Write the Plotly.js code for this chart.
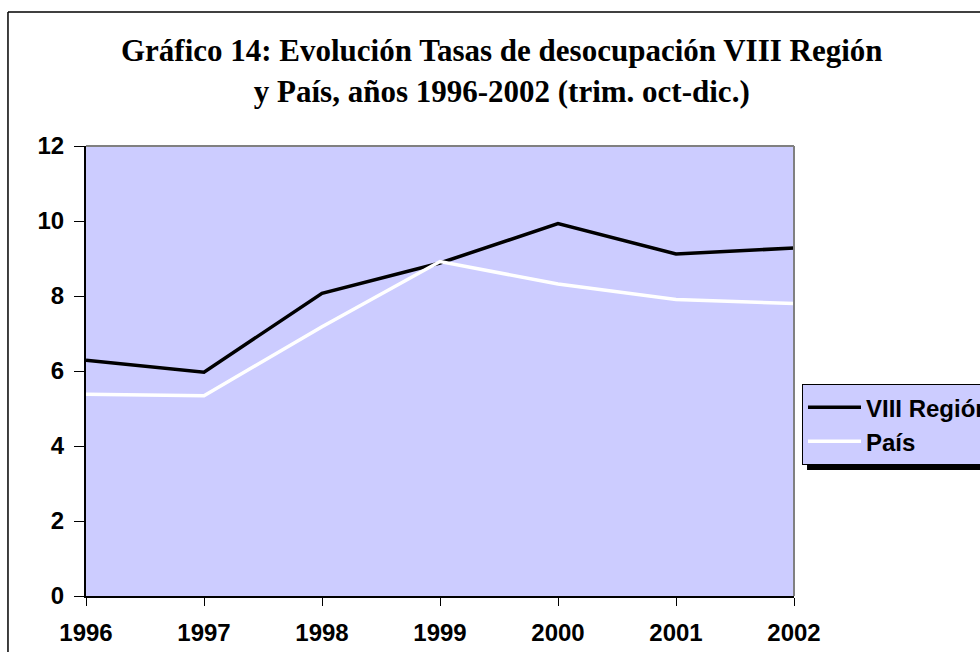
<!DOCTYPE html>
<html>
<head>
<meta charset="utf-8">
<script src="https://cdn.plot.ly/plotly-3.0.1.min.js"></script>
<style>
  html, body { margin: 0; padding: 0; background: #fff; }
  #chart { width: 980px; height: 652px; }
</style>
</head>
<body>
<div id="chart"></div>
<script>
var years = [1996, 1997, 1998, 1999, 2000, 2001, 2002];
var regionVIII = [6.29, 5.97, 8.07, 8.88, 9.93, 9.12, 9.28];
var pais = [5.38, 5.34, 7.18, 8.92, 8.32, 7.91, 7.80];
var yTicks = [0, 2, 4, 6, 8, 10, 12];

var CHART = document.getElementById('chart');

var trace1 = {
    x: years,
    y: regionVIII,
    type: 'scatter',
    mode: 'lines',
    name: 'VIII Región',
    line: { color: '#000000', width: 3.5 }
};

var trace2 = {
    x: years,
    y: pais,
    type: 'scatter',
    mode: 'lines',
    name: 'País',
    line: { color: '#ffffff', width: 3.5 }
};

var tickFont = { family: 'Liberation Sans, Arial, sans-serif', size: 24, color: '#000', weight: 'bold' };

var layout = {
    width: 980,
    height: 652,
    margin: { l: 86, r: 186, t: 146, b: 56, autoexpand: false },
    paper_bgcolor: '#ffffff',
    plot_bgcolor: '#ccccff',
    showlegend: true,
    title: {
        text: 'Gráfico 14: Evolución Tasas de desocupación VIII Región<br>y País, años 1996-2002 (trim. oct-dic.)',
        font: { family: 'Liberation Serif, Times New Roman, serif', size: 31, color: '#000', weight: 'bold' },
        x: 0.512,
        xanchor: 'center',
        y: 0.906,
        yanchor: 'top'
    },
    xaxis: {
        range: [1996, 2002],
        tickvals: years,
        ticktext: years.map(String),
        ticks: 'outside',
        ticklen: 8,
        tickwidth: 1,
        tickcolor: '#000',
        ticklabelstandoff: 6,
        showline: true,
        linecolor: '#000',
        linewidth: 2,
        showgrid: false,
        zeroline: false,
        tickfont: tickFont,
        fixedrange: true
    },
    yaxis: {
        range: [0, 12],
        tickvals: yTicks,
        ticks: 'outside',
        ticklen: 10,
        tickwidth: 1,
        tickcolor: '#000',
        ticklabelstandoff: 5,
        showline: true,
        linecolor: '#000',
        linewidth: 2,
        showgrid: false,
        zeroline: false,
        tickfont: tickFont,
        fixedrange: true
    },
    legend: {
        x: 1.0113,
        xanchor: 'left',
        y: 0.471,
        yanchor: 'top',
        bgcolor: '#ccccff',
        bordercolor: '#000',
        borderwidth: 1,
        font: { family: 'Liberation Sans, Arial, sans-serif', size: 24, color: '#000', weight: 'bold' },
        itemwidth: 53
    },
    shapes: [
        // outer chart frame
        { type: 'line', xref: 'paper', yref: 'paper', x0: -0.1102, x1: 1.3, y0: 1.2978, y1: 1.2978,
          line: { color: '#000', width: 1.5 } },
        { type: 'line', xref: 'paper', yref: 'paper', x0: -0.1102, x1: -0.1102, y0: -0.2, y1: 1.2978,
          line: { color: '#000', width: 1.5 } },
        // plot area top / right border
        { type: 'line', xref: 'paper', yref: 'paper', x0: 0, x1: 1, y0: 1, y1: 1,
          line: { color: '#808080', width: 2 } },
        { type: 'line', xref: 'paper', yref: 'paper', x0: 1, x1: 1, y0: 0, y1: 1,
          line: { color: '#808080', width: 2 } },
        // legend shadow
        { type: 'rect', xref: 'paper', yref: 'paper', x0: 1.0184, x1: 1.4, y0: 0.28, y1: 0.458,
          line: { width: 0 }, fillcolor: '#000' }
    ]
};

var config = { staticPlot: true };
Plotly.newPlot(CHART, [trace1, trace2], layout, config);
</script>
</body>
</html>
